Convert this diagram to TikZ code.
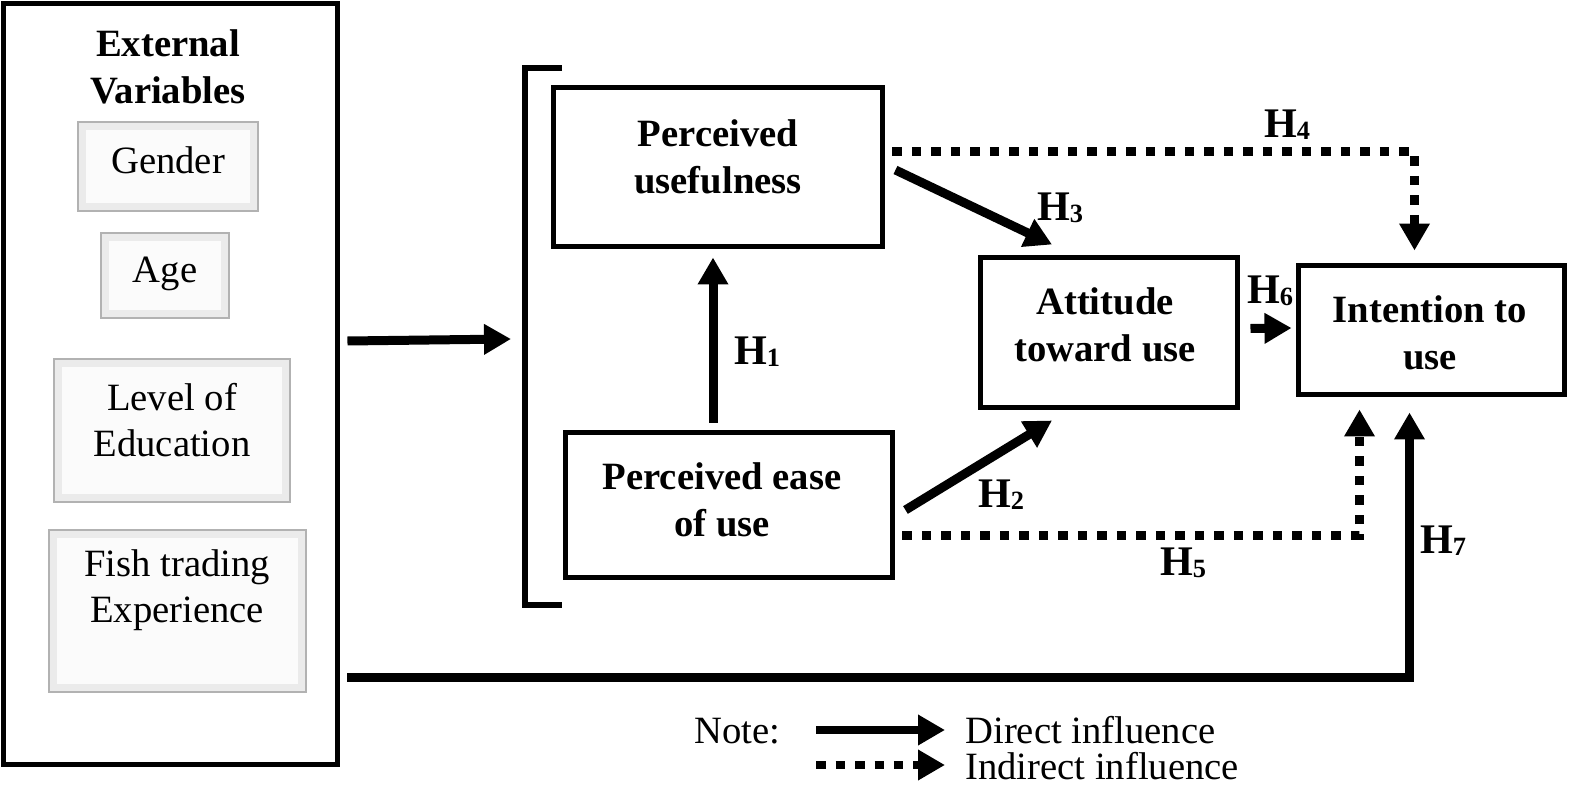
\documentclass[tikz,border=0pt]{standalone}
\usepackage{fontspec}
\setmainfont{Liberation Serif}
\usetikzlibrary{arrows.meta,calc}

\newcommand{\hyp}[1]{{\fontsize{24}{24}\selectfont\bfseries H\raisebox{-0.04cm}{\fontsize{15}{15}\selectfont #1}}}

\tikzset{
  frame/.style={draw, line width=0.1cm, inner sep=0},
  varbox/.style={draw=gray!60, line width=0.04cm, inner sep=0, fill=gray!16,
    path picture={\fill[gray!3] ([shift={(0.15cm,0.15cm)}]path picture bounding box.south west)
      rectangle ([shift={(-0.15cm,-0.15cm)}]path picture bounding box.north east);}},
  txt/.style={align=center, inner sep=0},
  dir/.style={line width=0.18cm, -{Triangle[length=0.54cm,width=0.58cm]}},
  ind/.style={dir, dash pattern=on 0.19cm off 0.2cm},
}

\begin{document}
\begin{tikzpicture}[x=0.02cm, y=-0.02cm, font=\fontsize{22}{26.5}\selectfont]
          \useasboundingbox (0,0) rectangle (1571,790);

          \node[frame, minimum width=6.7cm, minimum height=15.24cm] (ext) at (170.5,384) {};
          \node[txt, font=\fontsize{22}{26.5}\selectfont\bfseries] (ext-t) at (168,67) {External\\Variables};

          \node[varbox, minimum width=3.6cm, minimum height=1.78cm] (gender) at (168,166.5) {};
          \node[varbox, minimum width=2.56cm, minimum height=1.7cm] (age) at (165,275.5) {};
          \node[varbox, minimum width=4.72cm, minimum height=2.86cm] (level) at (172,430.5) {};
          \node[varbox, minimum width=5.14cm, minimum height=3.24cm] (fish) at (177.5,611) {};
          \node[txt] (gender-t) at (168,160) {Gender};
          \node[txt] (age-t) at (165,274) {Age};
          \node[txt] (level-t) at (172,420) {Level of\\Education};
          \node[txt] (fish-t) at (177,590) {Fish trading\\Experience};

          \draw[line width=0.11cm] (562,68) -- (525,68) -- (525,605) -- (562,605);
          \coordinate (brk) at (511,339);

          \node[frame, minimum width=6.6cm, minimum height=3.2cm] (pu) at (718,167) {};
          \node[frame, minimum width=6.56cm, minimum height=2.92cm] (peou) at (729,505) {};
          \node[frame, minimum width=5.16cm, minimum height=3.02cm] (att) at (1109,332.5) {};
          \node[frame, minimum width=5.34cm, minimum height=2.6cm] (int) at (1431.5,330) {};

          \begin{scope}[font=\fontsize{22}{26.5}\selectfont\bfseries]
              \node[txt] (pu-t) at (718,157) {Perceived\\usefulness};
              \node[txt] (peou-t) at (722,500) {Perceived ease\\of use};
              \node[txt] (att-t) at (1105,325) {Attitude\\toward use};
              \node[txt] (int-t) at (1430,333) {Intention to\\use};
          \end{scope}

          \draw[dir] ($(ext.east)+(7,-43)$) -- (brk);
          \draw[dir] ($(peou.north)+(-16,-7)$) -- ($(pu.south)+(-5,8)$);
          \draw[dir] ($(pu.east)+(10,3)$) -- ($(att.north)+(-57,-10)$);
          \draw[dir] ($(peou.east)+(10,5)$) -- ($(att.south)+(-57,10)$);
          \draw[dir] ($(att.east)+(10,-4)$) -- ($(int.west)+(-4,-2)$);
          \draw[dir] ($(ext.east)+(7,293)$) -| ($(int.south)+(-22,15)$);
          \draw[ind] ($(pu.east)+(7,-15)$) -| ($(int.north)+(-17,-12)$);
          \draw[ind] ($(peou.east)+(7,30)$) -| ($(int.south)+(-72,12)$);

          \node (h1) at (757,352) {\hyp{1}};
          \node (h2) at (1001,495) {\hyp{2}};
          \node (h3) at (1060,208) {\hyp{3}};
          \node (h4) at (1287,125) {\hyp{4}};
          \node (h5) at (1183,563) {\hyp{5}};
          \node (h6) at (1270,291) {\hyp{6}};
          \node (h7) at (1443,541) {\hyp{7}};

          \node[anchor=base west, inner sep=0] (note) at (694,743) {Note:};
          \coordinate (d-a) at (816,730);
          \coordinate (d-b) at (945,730);
          \coordinate (i-a) at (816,765);
          \coordinate (i-b) at (945,765);
          \draw[dir, line width=0.16cm] (d-a) -- (d-b);
          \draw[ind, line width=0.16cm] (i-a) -- (i-b);
          \node[anchor=base west, inner sep=0] (direct) at (965,743) {Direct influence};
          \node[anchor=base west, inner sep=0] (indirect) at (965,779) {Indirect influence};
        \end{tikzpicture}
\end{document}
